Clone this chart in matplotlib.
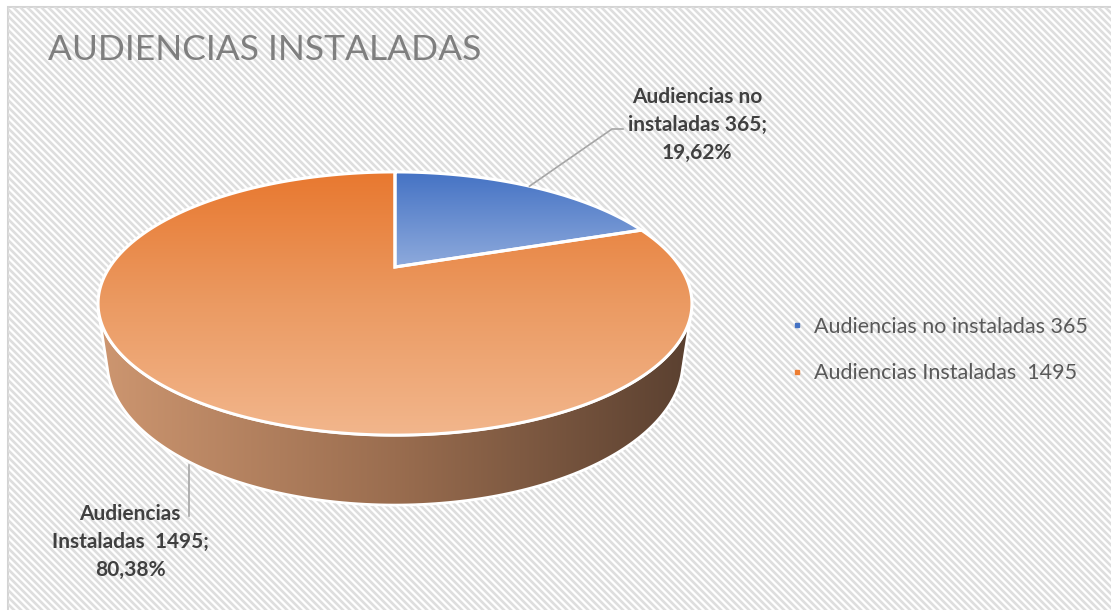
import numpy as np
import matplotlib
matplotlib.use("Agg")
import matplotlib.pyplot as plt
from matplotlib.patches import Polygon, Rectangle
from matplotlib.collections import LineCollection
from matplotlib.lines import Line2D
from matplotlib.colors import to_rgb

# data
categories = ["Audiencias no instaladas 365", "Audiencias Instaladas  1495"]
values = [365, 1495]
label_heads = [["Audiencias no", "instaladas 365;"], ["Audiencias", "Instaladas  1495;"]]
title = "AUDIENCIAS INSTALADAS"

top_colors = [["#4472c4", "#8eaadc"], ["#e8782f", "#eb9a62", "#f2b68c"]]
legend_colors = ["#4472c4", "#ed7d31"]
side_colors = ["#cd9670", "#9a6d4f", "#5a4030"]

plt.rcParams['font.family'] = ['Lato', 'DejaVu Sans']

W, H = 1111, 610
fig = plt.figure(figsize=(W / 100, H / 100), dpi=100)
ax = fig.add_axes([0, 0, 1, 1])
ax.set_xlim(0, W)
ax.set_ylim(H, 0)
ax.axis('off')

# chart area with diagonal stripes
frame = Rectangle((8, 7), W, H, facecolor='white', edgecolor='#d4d4d4', lw=1.5, zorder=0)
ax.add_patch(frame)
offs = np.arange(-H, W + H, 7)
segs = [[(o, 0), (o + H + 20, H + 20)] for o in offs]
lc = LineCollection(segs, colors='#dedede', linewidths=1.9, zorder=0.5)
ax.add_collection(lc)
lc.set_clip_path(frame)

# 3D pie projection (perspective view of a cylinder)
cx, cy = 395, 267
F, D, phi, depth = 930.0, 3.26, np.radians(25.2), 0.2226


def proj(th, z=0.0):
    zc = np.sin(th) * np.cos(phi) + D - z * np.sin(phi)
    yc = np.sin(th) * np.sin(phi) + z * np.cos(phi)
    return cx + F * np.cos(th) / zc, cy - F * yc / zc


def grad_fill(xy, colors, vertical=True, z=1):
    xs, ys = xy[:, 0], xy[:, 1]
    x0, x1, y0, y1 = xs.min(), xs.max(), ys.min(), ys.max()
    pos = np.linspace(0, 1, 256)
    stops = np.linspace(0, 1, len(colors))
    rgb = np.array([to_rgb(c) for c in colors])
    arr = np.stack([np.interp(pos, stops, rgb[:, i]) for i in range(3)], axis=-1)
    img = arr[:, None, :] if vertical else arr[None, :, :]
    patch = Polygon(xy, closed=True, facecolor='none', edgecolor='none', zorder=z)
    ax.add_patch(patch)
    im = ax.imshow(img, extent=(x0, x1, y1, y0), origin='upper', aspect='auto',
                   interpolation='bilinear', zorder=z)
    im.set_clip_path(patch)
    return patch


total = sum(values)
fracs = [v / total for v in values]
angles = []
a = np.pi / 2
for f in fracs:
    angles.append((a, a - 2 * np.pi * f))
    a -= 2 * np.pi * f

# side wall (front part, between silhouette tangents)
tang = np.arccos(1 / (D * np.cos(phi)))
th_side = np.linspace(-np.pi / 2 - tang, -np.pi / 2 + tang, 300)
tx, ty = proj(th_side, 0.0)
bx, by = proj(th_side, -depth)
side_xy = np.column_stack([np.concatenate([tx, bx[::-1]]), np.concatenate([ty, by[::-1]])])
grad_fill(side_xy, side_colors, vertical=False, z=1)
ax.add_patch(Polygon(side_xy, closed=True, facecolor='none', edgecolor='white', lw=2, zorder=1.5))

# top face slices
for (a0, a1), cols in zip(angles, top_colors):
    th = np.linspace(a0, a1, 400)
    px, py = proj(th, 0.0)
    xy = np.column_stack([np.concatenate([[cx], px]), np.concatenate([[cy], py])])
    grad_fill(xy, cols, vertical=True, z=2)
    ax.add_patch(Polygon(xy, closed=True, facecolor='none', edgecolor='white', lw=2.2,
                         joinstyle='miter', zorder=3))

# data labels with leader lines
lab_col = '#404040'
line_col = '#a6a6a6'
pct = [f"{f * 100:.2f}".replace('.', ',') + '%' for f in fracs]

mid0 = np.mean(angles[0])
lx, ly = proj(mid0, 0.0)
ax.plot([lx, 612, 623], [ly, 129, 129], color=line_col, lw=1.2, zorder=4)
ax.text(697, 125, "\n".join(label_heads[0] + [pct[0]]), ha='center', va='center',
        fontsize=15, fontweight='bold', color=lab_col, linespacing=1.5, zorder=5)

mid1 = np.mean(angles[1])
lx, ly = proj(mid1, -depth)
ax.plot([lx, lx], [ly + 3, 516], color=line_col, lw=1.2, zorder=4)
ax.text(130, 542, "\n".join(label_heads[1] + [pct[1]]), ha='center', va='center',
        fontsize=15, fontweight='bold', color=lab_col, linespacing=1.5, zorder=5)

# title
ax.text(48, 50, title, ha='left', va='center', fontsize=25.5, color='#7f7f7f',
        fontweight='normal', zorder=5)

# legend
handles = [Line2D([], [], marker='s', ls='', markersize=3.5, color=c) for c in legend_colors]
leg = ax.legend(handles, categories, loc='center left',
                bbox_to_anchor=(772 / W, 1 - 350 / H), frameon=False,
                fontsize=15.5, labelcolor='#595959', handlelength=0.5,
                handletextpad=0.55, labelspacing=1.25)

fig.savefig("out.png", dpi=100, facecolor='white')
